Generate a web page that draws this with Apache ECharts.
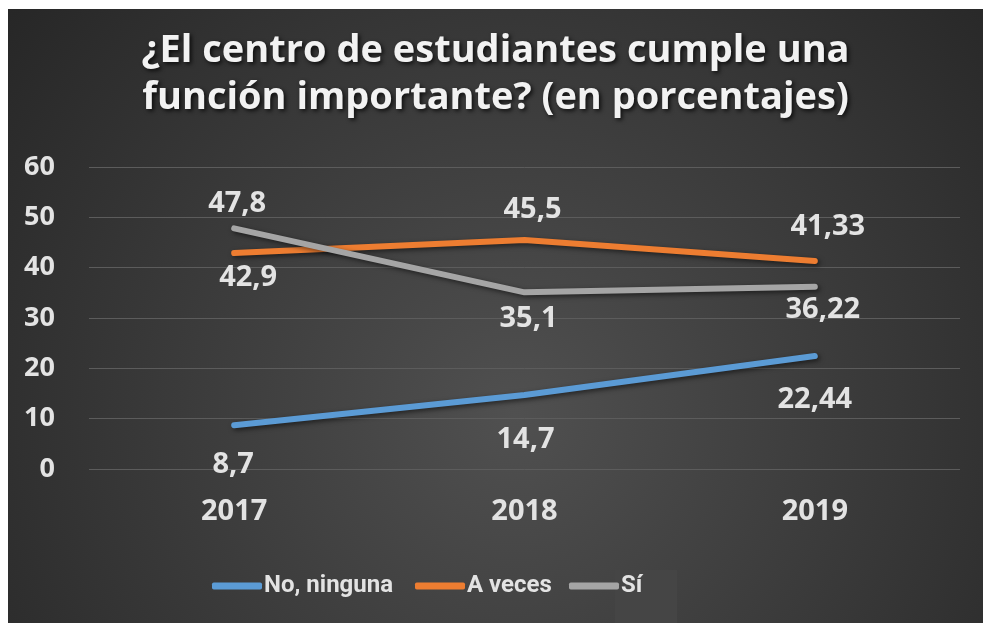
<!DOCTYPE html>
<html>
<head>
<meta charset="utf-8">
<script src="https://cdn.jsdelivr.net/npm/echarts@6/dist/echarts.min.js"></script>
<style>
  html, body { margin: 0; padding: 0; background: #ffffff; }
  #chart { position: absolute; left: 8px; top: 9px; width: 975px; height: 614px; }
</style>
</head>
<body>
<div id="chart"></div>
<script>
// Survey results by year (percent)
const years = ['2017', '2018', '2019'];
const noNinguna = [8.7, 14.7, 22.44];
const aVeces = [42.9, 45.5, 41.33];
const si = [47.8, 35.1, 36.22];
const yTicks = { min: 0, max: 60, interval: 10 };

// Label placement for each point: [side, distance, dx]
const noLabelPlace = [['bottom', 25, -1], ['bottom', 30, 1], ['bottom', 29, 0]];
const aVecesLabelPlace = [['bottom', 10, 14], ['top', 15, 8], ['top', 19, 13]];
const siLabelPlace = [['top', 10, 3], ['bottom', 11, 4], ['bottom', 8, 8]];

const textColor = '#e3e3e3';
const fontFam = '"Open Sans", "Noto Sans", sans-serif';

function withLabels(values, place) {
  return values.map((v, i) => ({
    value: v,
    label: {
      position: place[i][0],
      distance: place[i][1],
      offset: [place[i][2], 0]
    }
  }));
}

function lineSeries(name, color, values, place) {
  return {
    name: name,
    type: 'line',
    data: withLabels(values, place),
    symbol: 'circle',
    symbolSize: 1,
    itemStyle: { color: color },
    lineStyle: {
      color: color, width: 6, cap: 'round', join: 'round',
      shadowColor: 'rgba(0,0,0,0.55)', shadowBlur: 5, shadowOffsetX: 2, shadowOffsetY: 2
    },
    label: {
      show: true,
      color: textColor,
      fontFamily: fontFam,
      fontWeight: 'bold',
      fontSize: 29,
      formatter: p => String(p.value).replace('.', ',')
    },
    emphasis: { disabled: true },
    animation: false
  };
}

function legendAt(name, left) {
  return {
    data: [name],
    left: left,
    top: 560,
    icon: 'roundRect',
    itemWidth: 50,
    itemHeight: 7,
    textStyle: {
      color: textColor,
      fontFamily: 'Roboto, "Open Sans", sans-serif',
      fontWeight: 'bold',
      fontSize: 24,
      padding: [0, 0, 0, -3]
    }
  };
}

const chart = echarts.init(document.getElementById('chart'), null, { renderer: 'canvas' });
chart.setOption({
  animation: false,
  backgroundColor: {
    type: 'radial', x: 0.52, y: 0.66, r: 1.05,
    colorStops: [
      { offset: 0, color: '#505050' },
      { offset: 1, color: '#272727' }
    ]
  },
  title: {
    text: '¿El centro de estudiantes cumple una\nfunción importante? (en porcentajes)',
    left: 'center',
    top: 14,
    textStyle: {
      color: '#f2f2f2',
      fontFamily: fontFam,
      fontWeight: 'bold',
      fontSize: 38,
      lineHeight: 47,
      textShadowColor: 'rgba(0,0,0,0.75)',
      textShadowBlur: 4,
      textShadowOffsetX: 2,
      textShadowOffsetY: 2
    }
  },
  graphic: [{
    type: 'rect',
    shape: { x: 607, y: 561, width: 62, height: 53 },
    style: { fill: '#454545' },
    z: -1
  }],
  legend: [
    legendAt('No, ninguna', 199),
    legendAt('A veces', 402),
    legendAt('Sí', 556)
  ],
  grid: { left: 81, right: 23, top: 158, bottom: 154 },
  xAxis: {
    type: 'category',
    data: years,
    boundaryGap: true,
    axisLine: { show: false },
    axisTick: { show: false },
    axisLabel: {
      color: textColor, fontFamily: fontFam, fontWeight: 'bold', fontSize: 29, margin: 28
    }
  },
  yAxis: {
    type: 'value',
    min: yTicks.min,
    max: yTicks.max,
    interval: yTicks.interval,
    axisLine: { show: false },
    axisTick: { show: false },
    splitLine: { lineStyle: { color: '#5c5c5c', width: 1 } },
    axisLabel: {
      color: textColor, fontFamily: fontFam, fontWeight: 'bold', fontSize: 27, margin: 34
    }
  },
  series: [
    lineSeries('No, ninguna', '#5B9BD5', noNinguna, noLabelPlace),
    lineSeries('A veces', '#ED7D31', aVeces, aVecesLabelPlace),
    lineSeries('Sí', '#A5A5A5', si, siLabelPlace)
  ]
});
</script>
</body>
</html>
